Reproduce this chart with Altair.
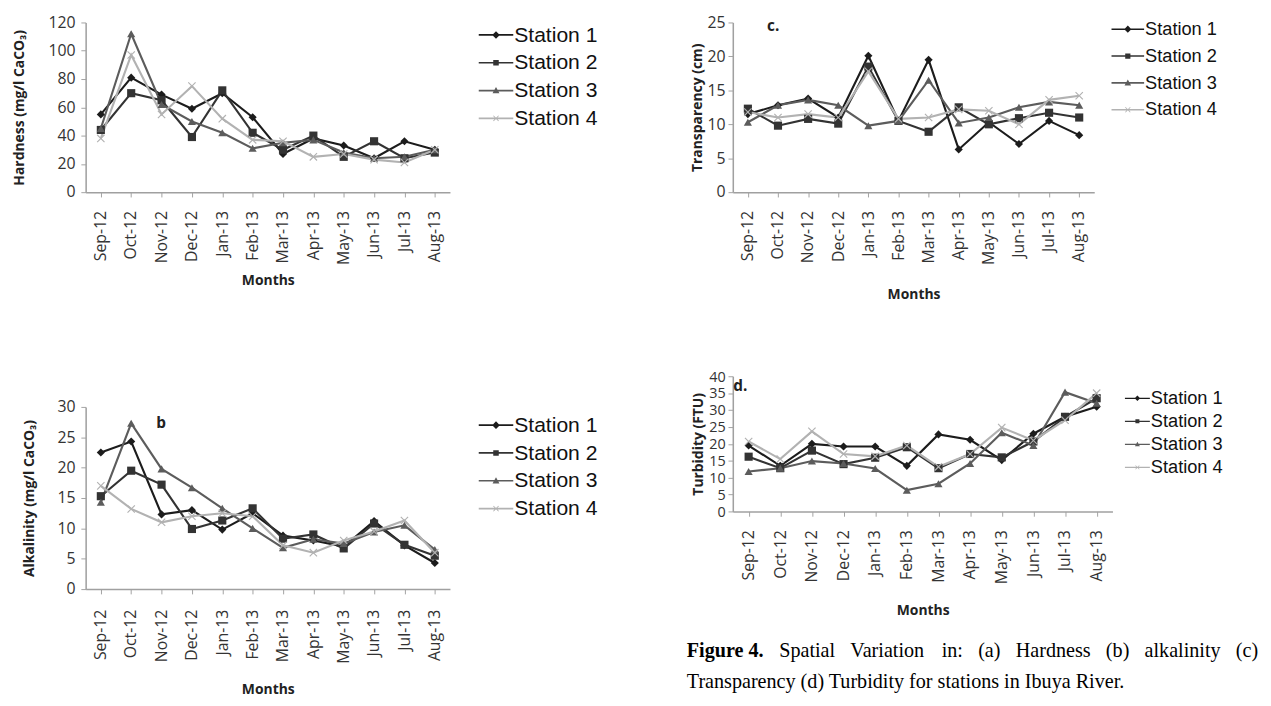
import altair as alt
import pandas as pd

months = ["Sep-12", "Oct-12", "Nov-12", "Dec-12", "Jan-13", "Feb-13",
          "Mar-13", "Apr-13", "May-13", "Jun-13", "Jul-13", "Aug-13"]
stations = ["Station 1", "Station 2", "Station 3", "Station 4"]

# (a) Hardness (mg/l CaCO3)
hard_s1 = [55, 81, 69, 59, 70, 53, 27, 38, 33, 24, 36, 30]
hard_s2 = [44, 70, 65, 39, 72, 42, 30, 40, 25, 36, 24, 28]
hard_s3 = [45, 112, 62, 50, 42, 31, 35, 37, 28, 24, 25, 30]
hard_s4 = [38, 97, 55, 75, 52, 37, 36, 25, 27, 23, 21, 30]

# (b) Alkalinity (mg/l CaCO3)
alk_s1 = [22.5, 24.3, 12.3, 13.0, 9.8, 12.5, 8.8, 8.0, 7.0, 11.2, 7.2, 4.3]
alk_s2 = [15.3, 19.5, 17.2, 9.9, 11.3, 13.3, 8.3, 9.0, 6.7, 10.8, 7.3, 5.5]
alk_s3 = [14.3, 27.3, 19.8, 16.7, 13.3, 10.0, 6.8, 8.2, 7.5, 9.4, 10.5, 6.5]
alk_s4 = [17.0, 13.2, 11.0, 12.0, 12.5, 12.0, 7.2, 6.0, 8.0, 9.5, 11.3, 6.0]

# (c) Transparency (cm)
tra_s1 = [11.5, 12.8, 13.8, 11.0, 20.1, 10.5, 19.5, 6.3, 10.3, 7.1, 10.5, 8.4]
tra_s2 = [12.3, 9.8, 10.8, 10.1, 18.5, 10.5, 8.9, 12.5, 10.0, 10.9, 11.7, 11.0]
tra_s3 = [10.3, 12.8, 13.6, 12.8, 9.8, 10.5, 16.5, 10.2, 11.0, 12.5, 13.3, 12.8]
tra_s4 = [11.8, 11.0, 11.5, 11.0, 17.8, 10.8, 11.0, 12.2, 12.0, 10.0, 13.6, 14.2]

# (d) Turbidity (FTU)
tur_s1 = [19.5, 13.5, 20.0, 19.2, 19.2, 13.5, 22.8, 21.2, 15.2, 23.0, 28.0, 31.0]
tur_s2 = [16.2, 12.8, 18.0, 14.0, 15.9, 19.0, 12.8, 17.0, 16.0, 20.7, 28.0, 33.5]
tur_s3 = [11.8, 12.8, 14.9, 14.2, 12.7, 6.3, 8.2, 14.2, 23.3, 19.5, 35.3, 32.0]
tur_s4 = [20.7, 15.5, 23.7, 17.0, 16.3, 19.5, 13.2, 17.0, 24.8, 21.0, 27.0, 35.0]

caption_bold = "Figure 4."
caption_line1 = "Spatial Variation in: (a) Hardness (b) alkalinity (c)"
caption_line2 = "Transparency (d) Turbidity for stations in Ibuya River."

line_colors = ["#1c1c1c", "#333333", "#5c5c5c", "#b2b2b2"]
x_shape = "M-1,-0.8L-0.8,-1L0,-0.2L0.8,-1L1,-0.8L0.2,0L1,0.8L0.8,1L0,0.2L-0.8,1L-1,0.8L-0.2,0Z"
shapes = ["diamond", "square", "triangle-up", x_shape]

# legend keys: a horizontal line with the marker in the middle
BAR = "M-1,-0.05L1,-0.05L1,0.05L-1,0.05Z"
k = 0.2
xk, xs = 0.17, 0.035
leg_shapes = [
    BAR + f"M0,-{k*1.1}L{k*1.1},0L0,{k*1.1}L-{k*1.1},0Z",
    BAR + f"M-{k*0.8},-{k*0.8}L{k*0.8},-{k*0.8}L{k*0.8},{k*0.8}L-{k*0.8},{k*0.8}Z",
    BAR + f"M0,-{k}L{k},{k*0.8}L-{k},{k*0.8}Z",
    BAR + (f"M-{xk},-{xk - xs}L-{xk - xs},-{xk}L0,-{xs}L{xk - xs},-{xk}L{xk},-{xk - xs}L{xs},0"
           f"L{xk},{xk - xs}L{xk - xs},{xk}L0,{xs}L-{xk - xs},{xk}L-{xk},{xk - xs}L-{xs},0Z"),
]

AX_FONT = "Open Sans"


def long_df(series):
    rows = []
    for st, vals in zip(stations, series):
        for i, (m, v) in enumerate(zip(months, vals)):
            rows.append({"Month": m, "Station": st, "Key": st, "Value": v, "order": i})
    return pd.DataFrame(rows)


def panel(series, ytitle, ymax, ystep, w, h, legend_fs, row_gap, key_w,
          leg_x, leg_y, letter, letter_month, letter_val, letter_dx,
          lab_pad, title_pad, ytitle_pad, ylab_pad, ylab_fs):
    df = long_df(series)
    base = alt.Chart(df)
    xenc = alt.X("Month:N", sort=months,
                 scale=alt.Scale(type="point", padding=0.5),
                 axis=alt.Axis(title="Months", labelAngle=-90, labelPadding=lab_pad,
                               titlePadding=title_pad, tickSize=5, labelOverlap=False,
                               labelFontSize=16.5))
    yenc = alt.Y("Value:Q", scale=alt.Scale(domain=[0, ymax], nice=False),
                 axis=alt.Axis(title=ytitle, values=list(range(0, ymax + 1, ystep)),
                               titlePadding=ytitle_pad, tickSize=5, labelOverlap=False,
                               labelPadding=ylab_pad, labelFontSize=ylab_fs))
    leg = alt.Legend(title=None, orient="none", legendX=leg_x, legendY=leg_y,
                     labelFont="Liberation Sans", labelFontSize=legend_fs,
                     labelColor="#111", symbolSize=key_w * key_w,
                     symbolStrokeWidth=0, symbolOpacity=1, rowPadding=row_gap,
                     labelOffset=1, padding=0)
    color_nl = alt.Color("Station:N", scale=alt.Scale(domain=stations, range=line_colors),
                         legend=None)
    shape_nl = alt.Shape("Station:N", scale=alt.Scale(domain=stations, range=shapes),
                         legend=None)
    lines = base.mark_line(strokeWidth=2.2).encode(x=xenc, y=yenc, color=color_nl,
                                                     order="order:Q")
    pts = base.mark_point(filled=True, size=72, opacity=1).encode(
        x=xenc, y=yenc, color=color_nl, shape=shape_nl)
    keys = base.mark_point(filled=True, opacity=0).encode(
        x=xenc, y=yenc,
        color=alt.Color("Key:N", scale=alt.Scale(domain=stations, range=line_colors),
                        legend=leg),
        shape=alt.Shape("Key:N", scale=alt.Scale(domain=stations, range=leg_shapes),
                        legend=leg))
    layers = [lines, pts, keys]
    if letter:
        lab = alt.Chart(pd.DataFrame({"Month": [letter_month], "Value": [letter_val],
                                      "t": [letter]})).mark_text(
            font=AX_FONT, fontSize=16, fontWeight="bold", color="#222", align="left",
            dx=letter_dx
        ).encode(x=xenc, y=yenc, text="t:N")
        layers.append(lab)
    return alt.layer(*layers).properties(width=w, height=h).resolve_scale(
        color="independent", shape="independent")


pa = panel([hard_s1, hard_s2, hard_s3, hard_s4], "Hardness (mg/l CaCO₃)",
           120, 20, 380, 177, 22, -7, 36, 410, -5, "", "Sep-12", 0, 0,
           14, 10, 22, 6, 16.5)
pb = panel([alk_s1, alk_s2, alk_s3, alk_s4], "Alkalinity (mg/l CaCO₃)",
           30, 5, 380, 190, 22, -7, 36, 410, 1, "b", "Oct-12", 27.3, 26,
           16, 20, 22, 6, 16.5)
pc = panel([tra_s1, tra_s2, tra_s3, tra_s4], "Transparency (cm)",
           25, 5, 377, 177, 19, 1, 34, 395, -10, "c.", "Sep-12", 24.4, 20,
           14, 24, 3, 3, 16.5)
pd_ = panel([tur_s1, tur_s2, tur_s3, tur_s4], "Turbidity (FTU)",
            40, 5, 396, 141, 19, 1, 26, 409, 10, "d.", "Sep-12", 37.2, -16,
            14, 21, 3, 3, 15)

# ---- caption (line 1 is justified as in the source page) ----
CAP_FS = 21
REG = {" ": 250, "(": 333, ")": 333, ":": 278, ".": 250, "a": 444, "b": 500,
       "c": 444, "d": 500, "e": 444, "i": 278, "k": 500, "l": 278, "n": 500,
       "o": 500, "p": 500, "r": 333, "s": 389, "t": 278, "y": 500, "H": 722,
       "S": 556, "V": 722}
BOLD_W = {"F": 611, "i": 278, "g": 500, "u": 556, "r": 444, "e": 444, " ": 250,
          "4": 500, ".": 250}
CAP_X0 = -48
LINE1_W = 596


def tw(s, table):
    return sum(table.get(ch, 500) for ch in s) * CAP_FS / 1000.0


words = caption_line1.split(" ")
natural = tw(caption_bold, BOLD_W) + sum(tw(wd, REG) for wd in words)
gap = (LINE1_W - natural) / len(words)
xs_words = []
cur = CAP_X0 + tw(caption_bold, BOLD_W) + gap
for wd in words:
    xs_words.append(cur)
    cur += tw(wd, REG) + gap

cap_layers = [alt.Chart(pd.DataFrame({"t": [caption_bold]})).mark_text(
    font="Liberation Serif", fontSize=CAP_FS, fontWeight="bold", align="left",
    baseline="middle", color="#000").encode(text="t:N", x=alt.value(CAP_X0), y=alt.value(12))]
for wd, xw in zip(words, xs_words):
    cap_layers.append(alt.Chart(pd.DataFrame({"t": [wd]})).mark_text(
        font="Liberation Serif", fontSize=CAP_FS, align="left", baseline="middle",
        color="#000").encode(text="t:N", x=alt.value(round(xw, 1)), y=alt.value(12)))
cap_layers.append(alt.Chart(pd.DataFrame({"t": [caption_line2]})).mark_text(
    font="Liberation Serif", fontSize=CAP_FS, align="left", baseline="middle",
    color="#000").encode(text="t:N", x=alt.value(CAP_X0), y=alt.value(44)))
caption = alt.layer(*cap_layers).properties(width=500, height=50)

left = alt.vconcat(pa, pb, spacing=117)
right = alt.vconcat(pc, alt.vconcat(pd_, caption, spacing=24), spacing=72)
chart = alt.hconcat(left, right, spacing=93).resolve_scale(
    color="independent", shape="independent"
).configure_view(stroke=None).configure_axis(
    grid=False, domainColor="#a0a0a0", tickColor="#a0a0a0", domainWidth=1.6,
    labelFont=AX_FONT, labelColor="#333",
    titleFont=AX_FONT, titleFontSize=14.5, titleFontWeight="bold", titleColor="#222"
).properties(background="white", padding={"left": 4, "top": -10, "right": 4, "bottom": 0})

chart.save("out.html", embed_options={"renderer": "svg", "actions": False})
